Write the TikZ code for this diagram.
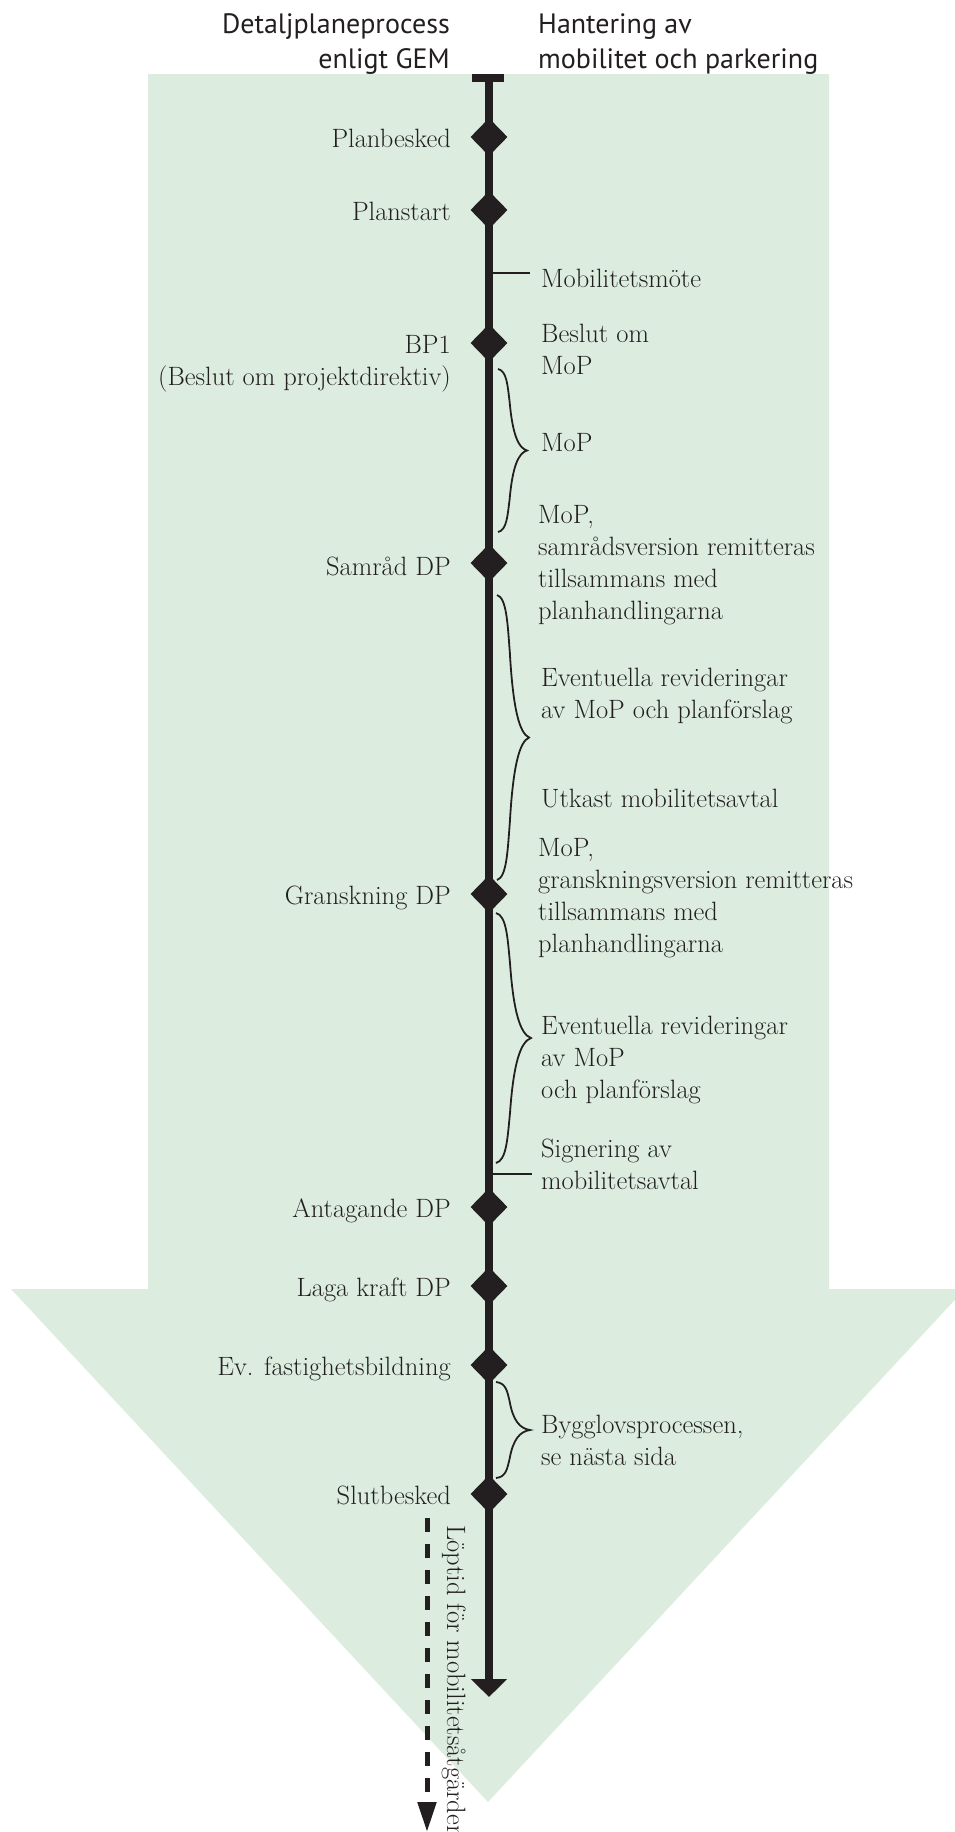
\documentclass[tikz,border=0pt]{standalone}
\usepackage{fontspec}
\newfontfamily\headfont{PT Sans}
\usetikzlibrary{shapes.geometric,arrows.meta}
\definecolor{arrowgreen}{HTML}{DCEDDF}
\definecolor{ink}{HTML}{231F20}
\newcommand{\dpfont}{\fontsize{26.5}{32}\selectfont}
% curly brace: #1 base x, #2 top y, #3 bottom y, #4 reach of the point
\newcommand{\dpbrace}[4]{%
  \draw[bracestroke]
    (#1,#2)
    .. controls ({#1+0.30*#4},{#2+0.01*(#3-#2)}) and ({#1+0.33*#4},{#2+0.10*(#3-#2)}) ..
    ({#1+0.40*#4},{#2+0.20*(#3-#2)})
    .. controls ({#1+0.50*#4},{#2+0.40*(#3-#2)}) and ({#1+0.70*#4},{#2+0.485*(#3-#2)}) ..
    ({#1+#4},{0.5*(#2+#3)})
    .. controls ({#1+0.70*#4},{#3-0.485*(#3-#2)}) and ({#1+0.50*#4},{#3-0.40*(#3-#2)}) ..
    ({#1+0.40*#4},{#3-0.20*(#3-#2)})
    .. controls ({#1+0.33*#4},{#3-0.10*(#3-#2)}) and ({#1+0.30*#4},{#3-0.01*(#3-#2)}) ..
    (#1,#3);}
\begin{document}
\begin{tikzpicture}[x=1pt,y=-1pt,
  milestone/.style={diamond,fill=ink,draw=none,inner sep=0pt,minimum width=37pt,minimum height=38pt},
  lefttext/.style={anchor=base east,inner sep=0pt,align=right,font=\dpfont,text=ink},
  righttext/.style={anchor=base west,inner sep=0pt,align=left,font=\dpfont,text=ink},
  headtext/.style={inner sep=0pt,font=\headfont\fontsize{28}{35}\selectfont,text=ink},
  bracestroke/.style={draw=ink,line width=1.8pt},
  tickline/.style={draw=ink,line width=2pt},
]
\useasboundingbox (0,0) rectangle (955,1832);

% big green arrow in the background
\fill[arrowgreen] (148,74) -- (829,74) -- (829,1289) -- (965,1289) -- (488,1802)
  -- (11,1289) -- (148,1289) -- cycle;

% headings (base anchor sits on the last line)
\node[headtext,anchor=base east,align=right] (hdLeft) at (450,68) {Detaljplaneprocess\\enligt GEM};
\node[headtext,anchor=base west,align=left] (hdRight) at (538,68) {Hantering av\\mobilitet och parkering};

% main time line
\coordinate (tlTop) at (489,74);
\coordinate (tlEnd) at (489,1697);
\draw[ink,line width=8pt,-{Triangle[width=35pt,length=18pt]}] (tlTop) -- (tlEnd);
\fill[ink] (472,74) rectangle (504,82);

% milestones
\node[milestone] (mPlanbesked) at (489,137) {};
\node[milestone] (mPlanstart) at (489,210) {};
\node[milestone] (mBP) at (489,343) {};
\node[milestone] (mSamrad) at (489,563) {};
\node[milestone] (mGranskning) at (489,894) {};
\node[milestone] (mAntagande) at (489,1207) {};
\node[milestone] (mLaga) at (489,1286) {};
\node[milestone] (mFastighet) at (489,1365) {};
\node[milestone] (mSlut) at (489,1494) {};

% milestone names
\node[lefttext] (lPlanbesked) at (451,147) {Planbesked};
\node[lefttext] (lPlanstart) at (451,220) {Planstart};
\node[lefttext] (lBP) at (451,385) {BP1\\(Beslut om projektdirektiv)};
\node[lefttext] (lSamrad) at (451,575) {Samråd DP};
\node[lefttext] (lGranskning) at (451,904) {Granskning DP};
\node[lefttext] (lAntagande) at (451,1217) {Antagande DP};
\node[lefttext] (lLaga) at (451,1296) {Laga kraft DP};
\node[lefttext] (lFastighet) at (451,1375) {Ev. fastighetsbildning};
\node[lefttext] (lSlut) at (451,1504) {Slutbesked};

% mobility and parking steps
\coordinate (tMoteA) at (492,273);
\coordinate (tMoteB) at (530,273);
\draw[tickline] (tMoteA) -- (tMoteB);
\node[righttext] (rMote) at (541,287) {Mobilitetsmöte};
\node[righttext] (rBeslut) at (541,374) {Beslut om\\MoP};
\dpbrace{498}{369}{532}{29}
\node[righttext] (rMoP) at (541,451) {MoP};
\node[righttext] (rSamrad) at (538,619) {MoP,\\samrådsversion remitteras\\tillsammans med\\planhandlingarna};
\dpbrace{497}{595}{880}{32}
\node[righttext] (rRev1) at (541,718) {Eventuella revideringar\\av MoP och planförslag};
\node[righttext] (rUtkast) at (541,807) {Utkast mobilitetsavtal};
\node[righttext] (rGranskning) at (538,952) {MoP,\\granskningsversion remitteras\\tillsammans med\\planhandlingarna};
\dpbrace{496}{913}{1163}{35}
\node[righttext] (rRev2) at (541,1098) {Eventuella revideringar\\av MoP\\och planförslag};
\coordinate (tSignA) at (492,1174);
\coordinate (tSignB) at (532,1174);
\draw[tickline] (tSignA) -- (tSignB);
\node[righttext] (rSign) at (541,1189) {Signering av\\mobilitetsavtal};
\dpbrace{496}{1382}{1478}{34}
\node[righttext] (rBygglov) at (541,1465) {Bygglovsprocessen,\\se nästa sida};

% running time of the mobility measures
\coordinate (dTop) at (427,1518);
\coordinate (dEnd) at (427,1832);
\draw[ink,line width=5pt,dash pattern=on 14pt off 12pt,-{Triangle[width=18pt,length=30pt]}] (dTop) -- (dEnd);
\node[rotate=-90,anchor=base west,inner sep=0pt,font=\dpfont,text=ink] (runtime) at (447,1525) {Löptid för mobilitetsåtgärder};
\end{tikzpicture}
\end{document}
